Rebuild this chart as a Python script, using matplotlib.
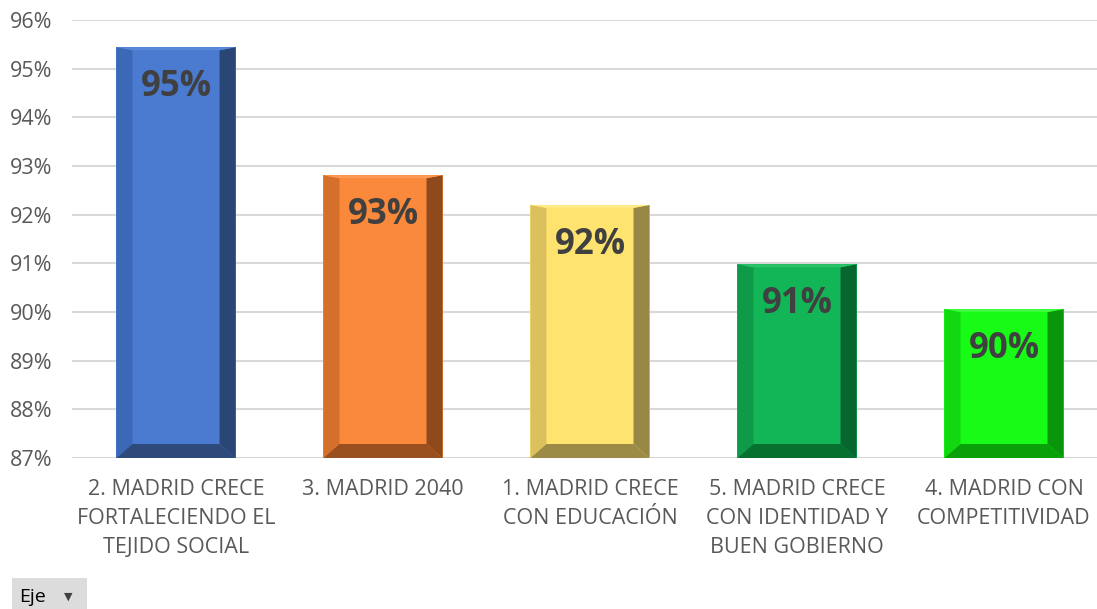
import matplotlib
matplotlib.use('Agg')
import matplotlib.pyplot as plt
from matplotlib.patches import Polygon, Rectangle

# chart data
categories = ['2. MADRID CRECE\nFORTALECIENDO EL\nTEJIDO SOCIAL',
              '3. MADRID 2040',
              '1. MADRID CRECE\nCON EDUCACIÓN',
              '5. MADRID CRECE\nCON IDENTIDAD Y\nBUEN GOBIERNO',
              '4. MADRID CON\nCOMPETITIVIDAD']
values = [95.44, 92.81, 92.20, 90.98, 90.06]
labels = ['95%', '93%', '92%', '91%', '90%']
y_ticks = [87, 88, 89, 90, 91, 92, 93, 94, 95, 96]

# front, left, right, bottom, top shades for the bevel look
front = ['#4a7bd1', '#fb893b', '#fee46f', '#13b657', '#17fb17']
left = ['#3c68b8', '#d5702a', '#dcc05e', '#0f9a49', '#12d812']
right = ['#2a4676', '#8e4a1d', '#978744', '#07652f', '#0a960a']
bottom = ['#2e4a7b', '#994f1e', '#9c8b47', '#08702f', '#0aa00a']
top = ['#5a88d8', '#fc9a55', '#fee985', '#2cc26a', '#3cfc3c']

fig = plt.figure(figsize=(10.97, 6.09), dpi=100)
ax = fig.add_axes([72 / 1097, 151 / 609, 1025 / 1097, 438 / 609])

bw = 0.575
x = list(range(len(values)))
bars = ax.bar(x, [v - 87 for v in values], bottom=87, width=bw, color=front, zorder=3)

# bevel sizes in data units
dx = 16 / 207
dy_bot = 14 / 48.7
dy_top = 3 / 48.7
for i, b in enumerate(bars):
    x0 = b.get_x()
    x1 = x0 + b.get_width()
    y0 = 87
    y1 = values[i]
    ax.add_patch(Polygon([(x0, y0), (x0 + dx, y0 + dy_bot), (x0 + dx, y1 - dy_top), (x0, y1)],
                         closed=True, facecolor=left[i], edgecolor='none', zorder=4))
    ax.add_patch(Polygon([(x1, y0), (x1 - dx, y0 + dy_bot), (x1 - dx, y1 - dy_top), (x1, y1)],
                         closed=True, facecolor=right[i], edgecolor='none', zorder=4))
    ax.add_patch(Polygon([(x0, y0), (x1, y0), (x1 - dx, y0 + dy_bot), (x0 + dx, y0 + dy_bot)],
                         closed=True, facecolor=bottom[i], edgecolor='none', zorder=4))
    ax.add_patch(Polygon([(x0, y1), (x1, y1), (x1 - dx, y1 - dy_top), (x0 + dx, y1 - dy_top)],
                         closed=True, facecolor=top[i], edgecolor='none', zorder=4))
    ax.text(x[i], y1 - 0.82, labels[i], ha='center', va='center', fontsize=25,
            fontweight='bold', color='#404040', family='Open Sans', zorder=5)

ax.set_xlim(-(176 - 72) / 207, (1097 - 176) / 207)
ax.set_ylim(87, 96)
ax.set_yticks(y_ticks)
ax.set_yticklabels([f'{t}%' for t in y_ticks])
ax.set_xticks(x)
ax.set_xticklabels(categories)
ax.grid(axis='y', color='#d9d9d9', linewidth=1.5, zorder=0)
for s in ax.spines.values():
    s.set_visible(False)
ax.tick_params(axis='both', length=0, colors='#595959', labelsize=15.5)
ax.tick_params(axis='x', pad=15)
ax.tick_params(axis='y', pad=14)
for t in ax.get_xticklabels() + ax.get_yticklabels():
    t.set_family('Open Sans')
for t in ax.get_xticklabels():
    t.set_linespacing(1.5)

# the little "Eje" field button at the bottom left
fig.patches.append(Rectangle((12 / 1097, 0), 75 / 1097, 31 / 609, transform=fig.transFigure,
                             facecolor='#dcdcdc', edgecolor='none'))
fig.text(19 / 1097, 12 / 609, 'Eje', fontsize=14, color='#000000', va='center', family='Open Sans')
fig.text(64 / 1097, 12 / 609, '▼', fontsize=8, color='#404040', va='center', family='DejaVu Sans')

fig.savefig('out.png', dpi=100)
